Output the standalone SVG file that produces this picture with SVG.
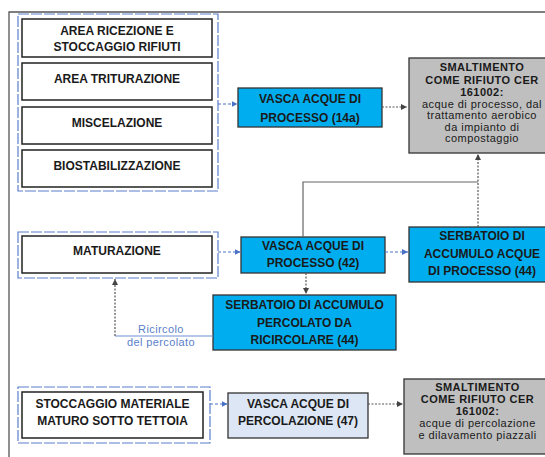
<svg xmlns="http://www.w3.org/2000/svg" width="545" height="457" viewBox="0 0 545 457">
  <defs>
    <marker id="arrBlue" viewBox="0 0 6 6" refX="6" refY="3" markerWidth="6" markerHeight="6" markerUnits="userSpaceOnUse" orient="auto">
      <path d="M0,0 L6,3 L0,6 Z" fill="#4a72c4"/>
    </marker>
    <marker id="arrGrey" viewBox="0 0 6 6" refX="6" refY="3" markerWidth="6" markerHeight="6" markerUnits="userSpaceOnUse" orient="auto">
      <path d="M0,0 L6,3 L0,6 Z" fill="#444"/>
    </marker>
    <style>
      .frame { fill: none; stroke: #555; stroke-width: 1.3; }
      .group { fill: none; stroke: #5b7fcb; stroke-width: 1.2; stroke-dasharray: 11 2; }
      .box { fill: #fff; stroke: #222; stroke-width: 1.5; }
      .blue { fill: #00aeef; stroke: #333; stroke-width: 1.3; }
      .grey { fill: #bfbfbf; stroke: #333; stroke-width: 1.3; }
      .pale { fill: #dce6f4; stroke: #333; stroke-width: 1.3; }
      text { font-family: "Liberation Sans", Arial, sans-serif; font-size: 12px; fill: #1a1a1a; text-anchor: middle; }
      .b { font-weight: bold; }
      .s { font-size: 11px; letter-spacing: 0.45px; }
      .lbl { fill: #5b7fcb; font-size: 11px; letter-spacing: 0.4px; }
      .flowBlue { fill: none; stroke: #4a72c4; stroke-width: 1; stroke-dasharray: 3 2; }
      .flowGrey { fill: none; stroke: #555; stroke-width: 1.2; stroke-dasharray: 2 1.5; }
      .solidGrey { fill: none; stroke: #666; stroke-width: 1.2; }
      .solidBlue { fill: none; stroke: #6f8fd6; stroke-width: 1; }
    </style>
  </defs>

  <rect width="545" height="457" fill="#fff"/>

  <!-- outer page frame -->
  <path class="frame" d="M545,12 H9 V457"/>

  <!-- composting phases -->
  <g id="grp-composting">
    <rect class="group" x="18" y="14" width="200" height="177"/>
    <g id="n-ricezione">
      <rect class="box" x="22" y="19" width="190" height="38"/>
      <text class="b" x="117" y="34.5">AREA RICEZIONE E</text>
      <text class="b" x="117" y="51">STOCCAGGIO RIFIUTI</text>
    </g>
    <g id="n-triturazione">
      <rect class="box" x="22" y="63" width="190" height="37"/>
      <text class="b" x="117" y="82.5">AREA TRITURAZIONE</text>
    </g>
    <g id="n-miscelazione">
      <rect class="box" x="22" y="107" width="190" height="37"/>
      <text class="b" x="117" y="127">MISCELAZIONE</text>
    </g>
    <g id="n-biostab">
      <rect class="box" x="22" y="150" width="190" height="37"/>
      <text class="b" x="117" y="170">BIOSTABILIZZAZIONE</text>
    </g>
  </g>

  <g id="n-vasca14a">
    <rect class="blue" x="238" y="88" width="144" height="39"/>
    <text class="b" x="310" y="102.5">VASCA ACQUE DI</text>
    <text class="b" x="310" y="121.5">PROCESSO (14a)</text>
  </g>

  <g id="n-smalt1">
    <rect class="grey" x="409" y="58" width="140" height="95"/>
    <text class="b s" x="482" y="71">SMALTIMENTO</text>
    <text class="b s" x="482" y="83.5">COME RIFIUTO CER</text>
    <text class="b s" x="482" y="95.5">161002:</text>
    <text class="s" x="482" y="107.5">acque di processo, dal</text>
    <text class="s" x="482" y="119">trattamento aerobico</text>
    <text class="s" x="482" y="130.5">da impianto di</text>
    <text class="s" x="482" y="142">compostaggio</text>
  </g>

  <g id="grp-maturazione">
    <rect class="group" x="18" y="232" width="200" height="46"/>
    <g id="n-maturazione">
      <rect class="box" x="22" y="236" width="190" height="37"/>
      <text class="b" x="117" y="255.3">MATURAZIONE</text>
    </g>
  </g>

  <g id="n-vasca42">
    <rect class="blue" x="241" y="237" width="144" height="36"/>
    <text class="b" x="313" y="250.3">VASCA ACQUE DI</text>
    <text class="b" x="313" y="267.3">PROCESSO (42)</text>
  </g>

  <g id="n-serbatoio-acque">
    <rect class="blue" x="409" y="227" width="140" height="55"/>
    <text class="b" x="482" y="240.3">SERBATOIO DI</text>
    <text class="b" x="482" y="258.3">ACCUMULO ACQUE</text>
    <text class="b" x="482" y="275.3">DI PROCESSO (44)</text>
  </g>

  <g id="n-serbatoio-percolato">
    <rect class="blue" x="213" y="295" width="183" height="55"/>
    <text class="b" x="304.5" y="308.6">SERBATOIO DI ACCUMULO</text>
    <text class="b" x="304.5" y="326.6">PERCOLATO DA</text>
    <text class="b" x="304.5" y="344.3">RICIRCOLARE (44)</text>
  </g>

  <g id="grp-stoccaggio">
    <rect class="group" x="18" y="387" width="192" height="56"/>
    <g id="n-stoccaggio">
      <rect class="box" x="22" y="392" width="181" height="46"/>
      <text class="b" x="112.5" y="407.5">STOCCAGGIO MATERIALE</text>
      <text class="b" x="112.5" y="425">MATURO SOTTO TETTOIA</text>
    </g>
  </g>

  <g id="n-vasca47">
    <rect class="pale" x="228" y="393" width="140" height="45"/>
    <text class="b" x="298" y="407.5">VASCA ACQUE DI</text>
    <text class="b" x="298" y="425">PERCOLAZIONE (47)</text>
  </g>

  <g id="n-smalt2">
    <rect class="grey" x="404" y="379" width="145" height="75"/>
    <text class="b s" x="477.5" y="391">SMALTIMENTO</text>
    <text class="b s" x="477.5" y="403">COME RIFIUTO CER</text>
    <text class="b s" x="477.5" y="415">161002:</text>
    <text class="s" x="477.5" y="427">acque di percolazione</text>
    <text class="s" x="477.5" y="438.5">e dilavamento piazzali</text>
  </g>

  <!-- connectors -->
  <g id="connectors">
    <path class="flowBlue" d="M218,104 H237.5" marker-end="url(#arrBlue)"/>
    <path class="flowGrey" d="M382,107 H407" marker-end="url(#arrGrey)"/>
    <path class="solidGrey" d="M303,237 V182 H478"/>
    <path class="flowGrey" d="M478,227 V154" marker-end="url(#arrGrey)"/>
    <path class="flowBlue" d="M218,252 H240.5" marker-end="url(#arrBlue)"/>
    <path class="flowBlue" d="M385,252 H408" marker-end="url(#arrBlue)"/>
    <path class="flowGrey" d="M306,273 V294" marker-end="url(#arrGrey)"/>
    <path class="solidBlue" d="M213,336 H115"/>
    <path class="flowGrey" d="M115,336 V279" marker-end="url(#arrGrey)"/>
    <text class="lbl" x="161" y="333">Ricircolo</text>
    <text class="lbl" x="161" y="345.5">del percolato</text>
    <path class="flowBlue" d="M210,404 H227.5" marker-end="url(#arrBlue)"/>
    <path class="flowGrey" d="M368,404 H403" marker-end="url(#arrGrey)"/>
  </g>
</svg>
